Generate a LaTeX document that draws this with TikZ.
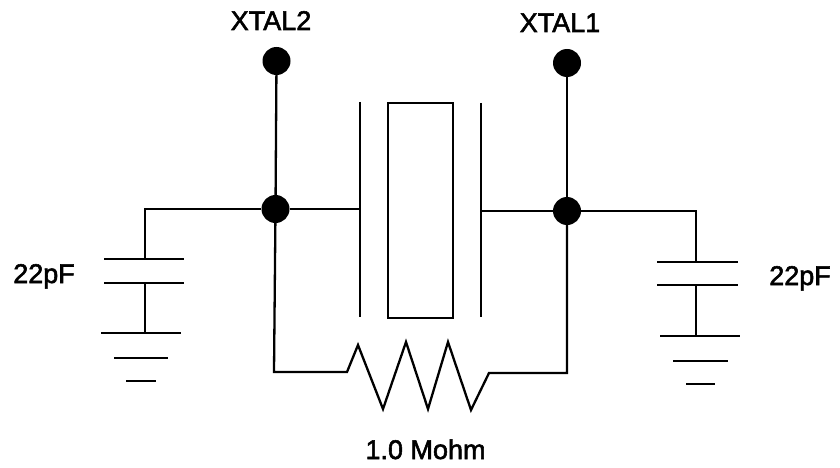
\documentclass[tikz,border=0pt]{standalone}
\usepackage{fontspec}
\newfontfamily\lblfont[FakeBold=2]{Liberation Sans}
\tikzset{
  wire/.style={line width=2.3pt,black,line join=miter},
  junction/.style={circle,fill=black,inner sep=0pt,minimum size=28pt},
  lbl/.style={inner sep=0pt,anchor=base,font=\lblfont\fontsize{27pt}{29pt}\selectfont}
}
\begin{document}
\begin{tikzpicture}[x=1pt,y=-1pt]
\useasboundingbox (0,0) rectangle (840,468);
\fill[white] (0,0) rectangle (840,468);
\node[junction] (x2) at (276.5,61) {};
\node[junction] (x1) at (567,63) {};
\node[junction] (j2) at (275.5,209) {};
\node[junction] (j1) at (567,211) {};
\node[lbl] (lx2) at (271,30) {XTAL2};
\node[lbl] (lx1) at (560,32) {XTAL1};
\node[lbl] (lc1) at (44,283) {22pF};
\node[lbl] (lc2) at (800,285) {22pF};
\node[lbl] (lr) at (425.5,459) {1.0 Mohm};
\draw[wire] (x2) -- (j2);
\draw[wire] (x1) -- (j1);
% crystal
\coordinate (pl) at (360,209);
\coordinate (pr) at (481,211);
\draw[wire] (360,102) -- (360,317);
\draw[wire] (481,103) -- (481,317);
\draw[wire] (388,103) rectangle (453,318);
\draw[wire] (j2) -- (pl);
\draw[wire] (pr) -- (j1);
% left capacitor
\coordinate (c1t) at (145,259);
\coordinate (c1b) at (145,283);
\coordinate (g1) at (145,333);
\draw[wire] (j2) -| (c1t);
\draw[wire] (104,259) -- (184,259);
\draw[wire] (104,283) -- (184,283);
\draw[wire] (c1b) -- (g1);
\draw[wire] (101,333) -- (181,333);
\draw[wire] (114,358) -- (168,358);
\draw[wire] (126,381) -- (156,381);
% right capacitor
\coordinate (c2t) at (696,262);
\coordinate (c2b) at (696,285);
\coordinate (g2) at (696,336);
\draw[wire] (j1) -| (c2t);
\draw[wire] (657,262) -- (738,262);
\draw[wire] (657,285) -- (738,285);
\draw[wire] (c2b) -- (g2);
\draw[wire] (660,336) -- (740,336);
\draw[wire] (673,361) -- (728,361);
\draw[wire] (686,384) -- (715,384);
% resistor
\coordinate (rl) at (274,372);
\coordinate (rr) at (567,373);
\draw[wire] (j2) -- (rl) -- (347,372) -- (358,345) -- (383,409) -- (406,342) -- (428,409) -- (448,342) -- (471,410) -- (489,373) -- (rr) -- (j1);
\end{tikzpicture}
\end{document}
